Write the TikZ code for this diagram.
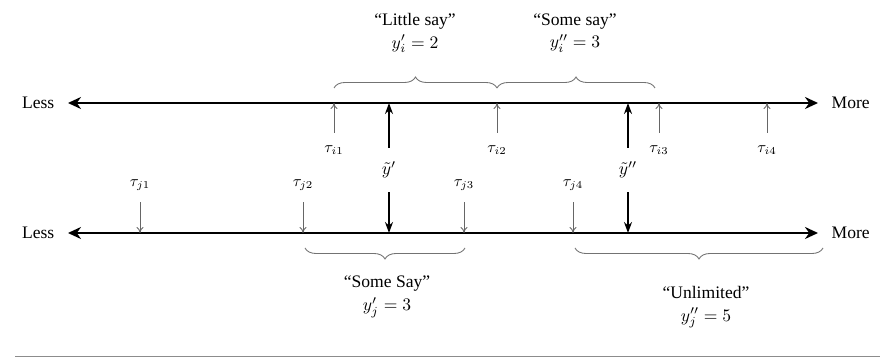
\documentclass[tikz,border=0pt]{standalone}
\usepackage{fontspec}
\setmainfont{Liberation Serif}
\usetikzlibrary{arrows.meta,decorations.pathreplacing}

\begin{document}
\begin{tikzpicture}[
  >=Stealth,
  axis/.style={line width=1.6pt,{Stealth[length=2.6mm,width=2.4mm]}-{Stealth[length=2.6mm,width=2.4mm]}},
  cut/.style={->,black!60,line width=0.5pt,shorten <=1.2mm,>={To[length=1.2mm,width=1.4mm]}},
  latent/.style={->,line width=1.1pt,shorten <=2.4mm,>={Stealth[length=2.2mm,width=1.6mm]}},
  grp/.style={decorate,decoration={brace,amplitude=2.2mm},black!55,line width=0.5pt},
  tag/.style={inner sep=1pt,font=\small},
  word/.style={align=center,inner sep=1pt,line width=0pt}
]
  \useasboundingbox (0,0) rectangle (17.6,7.16);

  % the two scales
  \coordinate (topL) at (1.36,5.10);
  \coordinate (topR) at (16.36,5.10);
  \coordinate (botL) at (1.36,2.50);
  \coordinate (botR) at (16.36,2.50);
  \draw[axis] (topL) -- (topR);
  \draw[axis] (botL) -- (botR);
  \node[left=1.5mm] (lessi) at (topL) {Less};
  \node[right=1.5mm] (morei) at (topR) {More};
  \node[left=1.5mm] (lessj) at (botL) {Less};
  \node[right=1.5mm] (morej) at (botR) {More};

  % thresholds of i
  \node[tag] (ti1) at (6.68,4.16) {$\tau_{i1}$};
  \node[tag] (ti2) at (9.94,4.16) {$\tau_{i2}$};
  \node[tag] (ti3) at (13.18,4.16) {$\tau_{i3}$};
  \node[tag] (ti4) at (15.34,4.16) {$\tau_{i4}$};
  \foreach \t in {ti1,ti2,ti3,ti4}
    \draw[cut] (\t.north) ++(0,0.1) -- (\t |- topL);

  % thresholds of j
  \node[tag] (tj1) at (2.80,3.46) {$\tau_{j1}$};
  \node[tag] (tj2) at (6.06,3.46) {$\tau_{j2}$};
  \node[tag] (tj3) at (9.28,3.46) {$\tau_{j3}$};
  \node[tag] (tj4) at (11.46,3.46) {$\tau_{j4}$};
  \foreach \t in {tj1,tj2,tj3,tj4}
    \draw[cut] (\t.south) ++(0,-0.08) -- (\t |- botL);

  % latent positions
  \node[word] (yone) at (7.78,3.76) {$\tilde{y}'$};
  \node[word] (ytwo) at (12.56,3.76) {$\tilde{y}''$};
  \draw[latent] (yone.north) -- (yone |- topL);
  \draw[latent] (yone.south) -- (yone |- botL);
  \draw[latent] (ytwo.north) -- (ytwo |- topL);
  \draw[latent] (ytwo.south) -- (ytwo |- botL);

  % categories of i
  \coordinate (bi1) at (6.68,5.40);
  \coordinate (bi2) at (9.94,5.40);
  \coordinate (bi3) at (13.10,5.40);
  \draw[grp] (bi1) -- (bi2);
  \draw[grp] (bi2) -- (bi3);
  \node[word] (little) at (8.30,6.50) {``Little say''\\[1pt]$y'_i=2$};
  \node[word] (somei) at (11.50,6.50) {``Some say''\\[1pt]$y''_i=3$};

  % categories of j
  \coordinate (bj1) at (6.10,2.20);
  \coordinate (bj2) at (9.30,2.20);
  \coordinate (bj3) at (11.50,2.20);
  \coordinate (bj4) at (16.46,2.20);
  \draw[grp] (bj2) -- (bj1);
  \draw[grp] (bj4) -- (bj3);
  \node[word] (somej) at (7.74,1.22) {``Some Say''\\[1pt]$y'_j=3$};
  \node[word] (unlim) at (14.12,1.02) {``Unlimited''\\[1pt]$y''_j=5$};

  % rule under the figure
  \draw[black!45,line width=0.8pt] (0.30,0.03) -- (17.6,0.03);
\end{tikzpicture}
\end{document}
